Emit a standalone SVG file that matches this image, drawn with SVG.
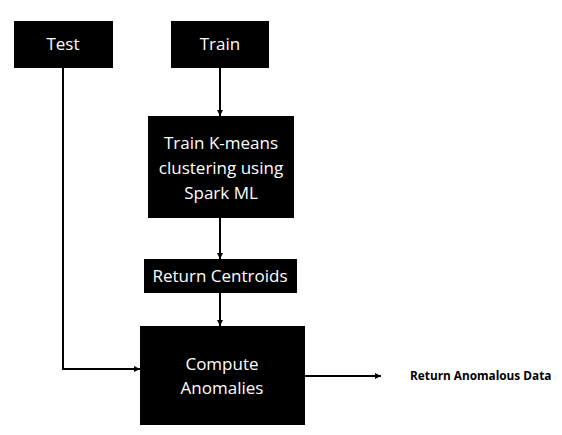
<svg xmlns="http://www.w3.org/2000/svg" width="562" height="435" viewBox="0 0 562 435">
<defs>
<marker id="ah" viewBox="0 0 6 6" refX="6" refY="3" markerWidth="3" markerHeight="3" orient="auto" markerUnits="strokeWidth">
<path d="M0,0 L6,3 L0,6 z" fill="#000"/>
</marker>
<style>
.box{fill:#000}
.t{font-family:"Open Sans","Noto Sans",sans-serif;font-size:17px;fill:#fff;text-anchor:middle}
.c{stroke:#000;stroke-width:2;fill:none;marker-end:url(#ah)}
.lbl{font-family:"Open Sans","Noto Sans",sans-serif;font-size:11.8px;font-weight:bold;fill:#000}
</style>
</defs>
<rect width="562" height="435" fill="#fff"/>
<g id="connectors">
<path class="c" d="M220,68 V116"/>
<path class="c" d="M220,218 V259"/>
<path class="c" d="M220,293 V326"/>
<path class="c" d="M63,68 V369 H140"/>
<path class="c" d="M305,376 H381"/>
</g>
<g id="test">
<rect class="box" x="14" y="21" width="99" height="47"/>
<text class="t" x="63" y="50">Test</text>
</g>
<g id="train">
<rect class="box" x="171" y="21" width="98" height="47"/>
<text class="t" x="220" y="50">Train</text>
</g>
<g id="kmeans">
<rect class="box" x="148" y="116" width="146" height="102"/>
<text class="t" x="221" y="149">Train K-means</text>
<text class="t" x="221" y="174">clustering using</text>
<text class="t" x="221" y="199">Spark ML</text>
</g>
<g id="centroids">
<rect class="box" x="144" y="259" width="153" height="34"/>
<text class="t" x="220" y="282">Return Centroids</text>
</g>
<g id="compute">
<rect class="box" x="140" y="326" width="165" height="99"/>
<text class="t" x="222" y="370">Compute</text>
<text class="t" x="222" y="394">Anomalies</text>
</g>
<g id="output">
<text class="lbl" x="410" y="380">Return Anomalous Data</text>
</g>
</svg>
